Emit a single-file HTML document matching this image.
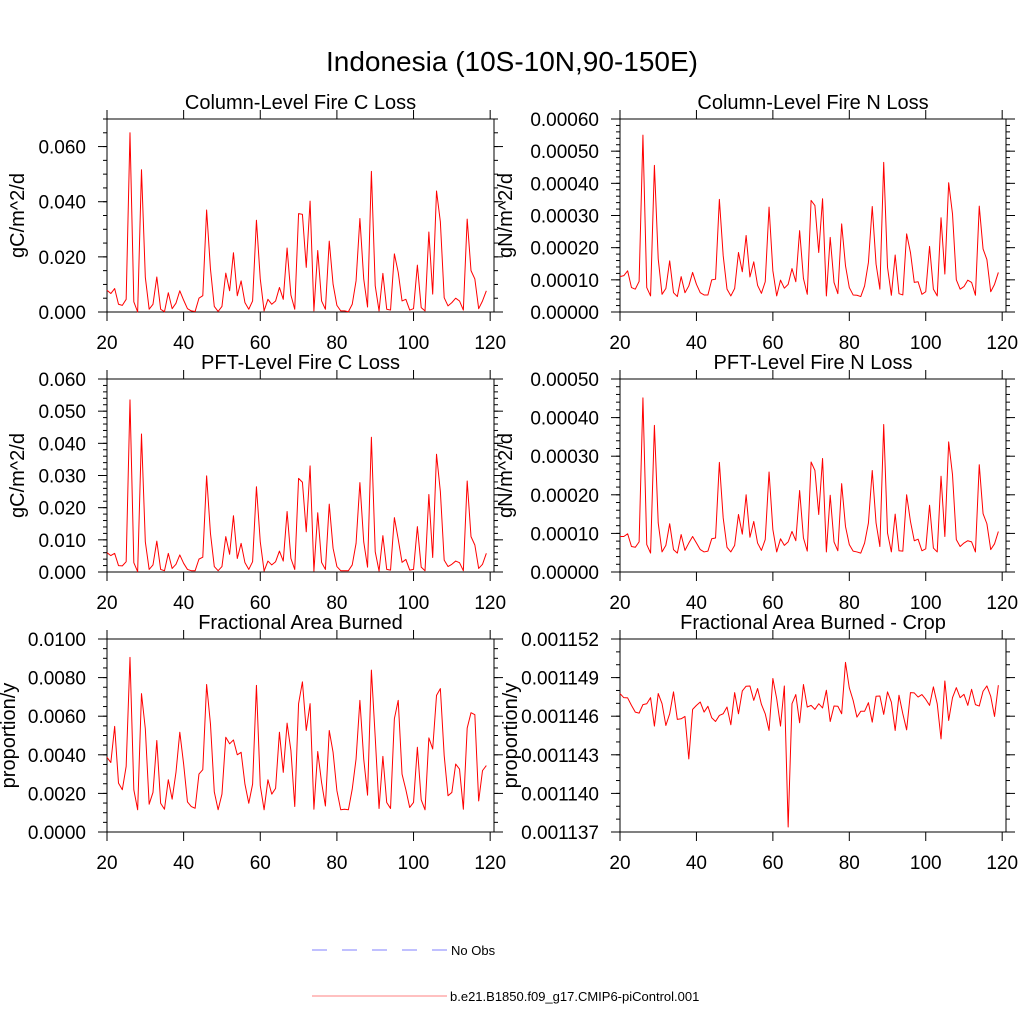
<!DOCTYPE html>
<html><head><meta charset="utf-8">
<style>
html,body{margin:0;padding:0;background:#fff;}
svg{display:block;font-family:"Liberation Sans",Arial,sans-serif;}
</style></head>
<body>
<svg id="chart" width="1024" height="1024" viewBox="0 0 1024 1024" xmlns="http://www.w3.org/2000/svg">
<rect width="1024" height="1024" fill="#fff"/>
<text x="512" y="71" font-size="28" text-anchor="middle" fill="#000">Indonesia (10S-10N,90-150E)</text>
<g id="panels"></g>
<g>
<line x1="312" y1="950" x2="447" y2="950" stroke="#8080ff" stroke-width="1" stroke-dasharray="15,15"/>
<text x="451" y="955" font-size="13" fill="#000">No Obs</text>
<line x1="312" y1="996" x2="447" y2="996" stroke="#ff8080" stroke-width="1"/>
<text x="450" y="1001" font-size="13" fill="#000">b.e21.B1850.f09_g17.CMIP6-piControl.001</text>
</g>
</svg>
<script>
const years = Array.from({length:100},(_, i)=>20+i);
const xTicks = [20,40,60,80,100,120];
// Column-level Fire C loss (units 1e-3 gC/m^2/d)
const colC = [7.9,6.7,8.5,2.8,2.4,4.6,65,3.7,0,51.6,12.6,1,2.8,12.7,1,0.1,7,1.2,3.2,7.7,4.3,1.2,0.4,0.2,5,5.9,37,15.6,2,0.2,2,14.1,7.7,21.5,5.9,11.3,3.4,1,4,33.3,12,0.4,4.6,2.8,4,8.9,4.6,23.2,6.1,1,35.7,35.4,16.2,40.2,0.4,22.3,4,1,25.7,10.1,2.4,0.4,0.4,0.1,2.8,11.3,33.9,12,1.8,51,9.5,0.4,14,1,0.7,21.1,14.4,4,4.6,0.7,1.2,17,1.6,0.4,29,6.5,43.9,32.7,5.2,2.2,3.4,5,4,0.7,33.7,15,12,1.2,4,7.7];
// Column-level Fire N loss (units 1e-5 gN/m^2/d)
const colN = [11,11.3,12.8,7.6,7.1,9.5,55,7.6,5,45.6,16.5,5.5,7.3,15.9,6,4.8,11,6,8.1,12.3,8.6,6,5.3,5.3,10,10.2,35,17.5,7.1,5,7.3,18.5,12.5,23.8,10.9,15.6,8.3,5.8,9.4,32.6,12.8,5,9.9,7.4,8.6,13.5,9.4,25.3,10.4,5.5,34.7,33.1,18.5,35.2,5,23.2,9.2,5.7,27.4,14.4,7.6,5.3,5.2,4.8,8.1,15.4,32.8,14.9,7.1,46.5,13.9,5.2,17.7,5.7,5.3,24.3,18.5,9.2,9.4,5.5,6.3,20.4,7.1,5,29.3,11.8,40.2,30.5,10,7.1,7.9,9.9,9.2,5.2,32.9,19.6,16.3,6.3,8.6,12.3];
// PFT-level Fire C loss (units 1e-3)
const pftC = [6,5.1,5.8,2,1.9,3.2,53.5,2.9,0.1,42.9,9.4,0.8,2.2,9.6,0.8,0.4,5.8,1.1,2.4,5.3,2.7,0.8,0.4,0.4,4,4.6,29.9,12,1.7,0.4,1.7,11,5.5,17.5,4.2,8.9,2.9,0.8,3.2,26.5,9.4,0.3,3.4,2.2,3.2,6.5,3.4,18.8,4.2,0.8,29.1,27.9,12.5,33,0.3,18.4,3,0.8,21.1,7.4,1.7,0.4,0.4,0.4,2.2,8.9,27.8,9.4,1.5,41.9,6.3,0.3,11.3,0.8,0.6,16.9,10.2,3,3.9,0.6,0.8,14.1,1.5,0.4,24.1,4.5,36.6,25,3.7,1.7,2.4,3.4,2.9,0.4,28.3,11,8.4,1.1,2.4,5.8];
// PFT-level Fire N loss (units 1e-5)
const pftN = [9.2,9.2,9.9,6.6,6.4,7.8,45.1,7.1,4.9,38,12.7,5.2,6.9,12.5,5.8,4.9,9.7,5.6,7.5,9.2,7.5,5.8,5.2,5.4,8.6,8.8,28.4,14,6.4,5.2,6.9,14.9,9.8,20,9,13.1,7.5,5.6,8.4,25.9,11,5.2,8.6,6.9,7.8,10.5,8.1,21.1,8.8,5.4,28.5,26.3,14.9,29.4,5.2,19.9,7.8,5.5,22.9,11.8,7.1,5.4,5.2,4.9,7.5,12.7,26.3,12.7,6.6,38.2,10.1,5.2,15,5.5,5.4,20,13.1,8.1,8.5,5.5,6,17.3,6.2,5.2,24.8,9.2,33.7,25.2,8.4,6.6,7.5,8.1,7.8,5.2,27.8,15.1,12.5,5.8,7.3,10.5];
// Fractional area burned (units 1e-3 proportion/y)
const fab = [3.87,3.6,5.47,2.53,2.19,3.4,9.05,2.19,1.15,7.17,5.35,1.44,2.05,4.74,1.49,1.18,2.71,1.7,3.09,5.17,3.52,1.56,1.32,1.23,3,3.23,7.64,5.6,2.08,1.15,1.96,4.91,4.57,4.77,4,4.13,2.48,1.49,2.48,7.6,2.4,1.15,2.71,1.96,2.26,5.17,3.09,5.64,4.22,1.32,6.65,7.78,5.26,6.65,1.18,4.17,2.57,1.35,5.26,4.13,2.14,1.15,1.18,1.15,2.22,3.78,6.82,3.78,1.91,8.39,4.91,1.22,3.92,1.53,1.22,5.87,6.82,3,2.19,1.27,1.53,4.39,1.67,1.15,4.88,4.3,7.08,7.43,3.96,1.88,2.05,3.52,3.26,1.18,5.38,6.18,6.08,1.61,3.18,3.44];
// Fractional area burned - crop (units 1e-6 proportion/y)
const fabCrop = [1147.76,1147.44,1147.42,1146.84,1146.32,1146.24,1146.9,1146.97,1147.44,1145.23,1147.76,1146.97,1145.28,1146.19,1147.89,1145.75,1145.8,1145.98,1142.68,1146.53,1146.84,1147.1,1146.32,1146.77,1145.88,1145.59,1146.06,1146.19,1146.71,1145.33,1147.83,1146.19,1147.96,1148.33,1148.35,1147.23,1148.15,1146.92,1146.19,1144.89,1148.93,1147.36,1145.23,1148.35,1137.39,1146.97,1147.68,1145.49,1148.46,1146.71,1146.84,1146.53,1146.97,1146.64,1148.02,1145.59,1146.79,1146.77,1146.19,1150.18,1148.2,1147.23,1145.93,1146.38,1146.38,1147.05,1145.54,1147.55,1147.57,1146.14,1147.89,1147.1,1144.89,1147.63,1146.19,1144.94,1147.83,1147.81,1147.49,1147.68,1147.31,1146.84,1148.28,1146.97,1144.24,1148.74,1145.67,1147.44,1148.22,1147.44,1147.7,1146.84,1148.09,1146.9,1146.79,1147.94,1148.35,1147.55,1145.98,1148.41];

const yTicksColC = ["0.000","0.020","0.040","0.060"];
const yTicksColN = ["0.00000","0.00010","0.00020","0.00030","0.00040","0.00050","0.00060"];
const yTicksPftC = ["0.000","0.010","0.020","0.030","0.040","0.050","0.060"];
const yTicksPftN = ["0.00000","0.00010","0.00020","0.00030","0.00040","0.00050"];
const yTicksFab = ["0.0000","0.0020","0.0040","0.0060","0.0080","0.0100"];
const yTicksCrop = ["0.001137","0.001140","0.001143","0.001146","0.001149","0.001152"];

const NS = "http://www.w3.org/2000/svg";
function mk(tag, attrs, parent){
  const e = document.createElementNS(NS, tag);
  for (const k in attrs) e.setAttribute(k, attrs[k]);
  parent.appendChild(e);
  return e;
}

const panels = [
  {name:"column-fire-c-loss", title:"Column-Level Fire C Loss", ylab:"gC/m^2/d", yx:17, L:107,R:494,T:119,B:312, ymin:0,ymax:0.07, scale:1e-3, data:colC, ticks:yTicksColC, tstep:0.02, minor:0.005},
  {name:"column-fire-n-loss", title:"Column-Level Fire N Loss", ylab:"gN/m^2/d", yx:505, L:620,R:1006,T:119,B:312, ymin:0,ymax:0.0006, scale:1e-5, data:colN, ticks:yTicksColN, tstep:0.0001, minor:0.00002},
  {name:"pft-fire-c-loss", title:"PFT-Level Fire C Loss", ylab:"gC/m^2/d", yx:17, L:107,R:494,T:379,B:572, ymin:0,ymax:0.06, scale:1e-3, data:pftC, ticks:yTicksPftC, tstep:0.01, minor:0.002},
  {name:"pft-fire-n-loss", title:"PFT-Level Fire N Loss", ylab:"gN/m^2/d", yx:505, L:620,R:1006,T:379,B:572, ymin:0,ymax:0.0005, scale:1e-5, data:pftN, ticks:yTicksPftN, tstep:0.0001, minor:0.00002},
  {name:"fractional-area-burned", title:"Fractional Area Burned", ylab:"proportion/y", yx:8, L:107,R:494,T:639,B:832, ymin:0,ymax:0.01, scale:1e-3, data:fab, ticks:yTicksFab, tstep:0.002, minor:0.0005},
  {name:"fractional-area-burned-crop", title:"Fractional Area Burned - Crop", ylab:"proportion/y", yx:510, L:620,R:1006,T:639,B:832, ymin:0.001137,ymax:0.001152, scale:1e-6, data:fabCrop, ticks:yTicksCrop, tstep:0.000003, minor:0.000001}
];

const root = document.getElementById("panels");
panels.forEach(p => {
  const g = mk("g", {}, root);
  
  
  const xs = v => p.L + (v - 20) / 101 * (p.R - p.L);
  const ys = v => p.B - (v - p.ymin) / (p.ymax - p.ymin) * (p.B - p.T);

  const t = mk("text", {x:(p.L+p.R)/2, y:p.T-10, "font-size":20, "text-anchor":"middle", fill:"#000"}, g);
  t.textContent = p.title;
  
  

  const nMinor = Math.round((p.ymax - p.ymin) / p.minor);
  for (let i = 0; i <= nMinor; i++) {
    const y = ys(p.ymin + i * p.minor);
    mk("line", {x1:p.L-4, x2:p.L, y1:y, y2:y, stroke:"#000", "stroke-width":1}, g);
    mk("line", {x1:p.R, x2:p.R+4, y1:y, y2:y, stroke:"#000", "stroke-width":1}, g);
  }
  p.ticks.forEach((lab, i) => {
    const y = ys(p.ymin + i * p.tstep);
    mk("line", {x1:p.L-9, x2:p.L, y1:y, y2:y, stroke:"#000", "stroke-width":1}, g);
    mk("line", {x1:p.R, x2:p.R+9, y1:y, y2:y, stroke:"#000", "stroke-width":1}, g);
    const tl = mk("text", {x:p.L-21, y:y+7, "font-size":19, "text-anchor":"end", fill:"#000"}, g);
    tl.textContent = lab;
    
    
  });

  const yl = mk("text", {x:0, y:0, "font-size":20, "text-anchor":"middle", fill:"#000", transform:`translate(${p.yx + 7},${(p.T+p.B)/2}) rotate(-90)`}, g);
  yl.textContent = p.ylab;
  
  

  xTicks.forEach(v => {
    const x = xs(v);
    mk("line", {x1:x, x2:x, y1:p.B, y2:p.B+9, stroke:"#000", "stroke-width":1}, g);
    mk("line", {x1:x, x2:x, y1:p.T-9, y2:p.T, stroke:"#000", "stroke-width":1}, g);
    const tl = mk("text", {x:x, y:p.B+37, "font-size":19, "text-anchor":"middle", fill:"#000"}, g);
    tl.textContent = String(v);
    
    
  });
  const box = mk("rect", {x:p.L, y:p.T, width:p.R-p.L, height:p.B-p.T, fill:"none", stroke:"#000", "stroke-width":1}, g);
  
  

  const pts = p.data.map((v, i) => xs(years[i]).toFixed(2) + "," + ys(v * p.scale).toFixed(2)).join(" ");
  const line = mk("polyline", {points:pts, fill:"none", stroke:"#ff0000", "stroke-width":1, "stroke-linejoin":"round"}, g);
  
  
});
</script>
</body></html>
